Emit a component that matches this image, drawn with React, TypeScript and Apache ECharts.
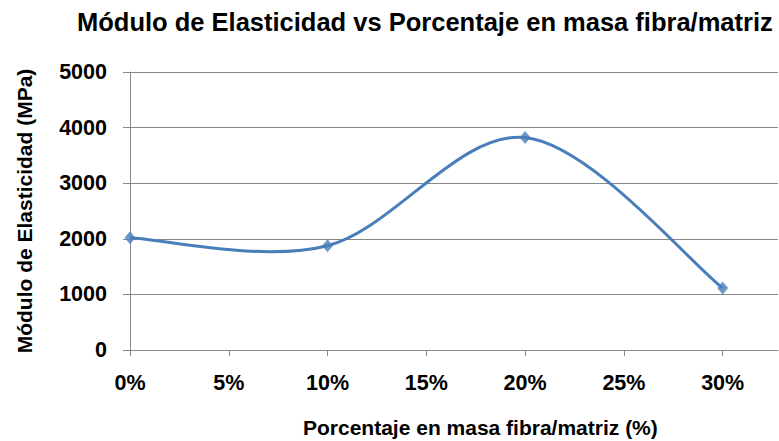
import React, { useEffect, useRef } from "react";
import * as echarts from "echarts";

const titleText = "Módulo de Elasticidad vs Porcentaje en masa fibra/matriz";
const xName = "Porcentaje en masa fibra/matriz (%)";
const yName = "Módulo de Elasticidad (MPa)";
const xValues = [0, 0.1, 0.2, 0.3];
const yValues = [2020, 1875, 3820, 1115];
const xTicks = [0, 0.05, 0.1, 0.15, 0.2, 0.25, 0.3];

const LINE_COLOR = "#4A7EBB";
const FONT = "Liberation Sans, Arial, sans-serif";

export default function App() {
  const ref = useRef<HTMLDivElement>(null);
  useEffect(() => {
    if (!ref.current) return;
    const chart = echarts.init(ref.current, undefined, { renderer: "svg" });
    const pts = xValues.map((x, i) => [x, yValues[i]]);
    chart.setOption({
      animation: false,
      backgroundColor: "#ffffff",
      title: {
        text: titleText,
        left: 72,
        top: 4,
        textStyle: { fontFamily: FONT, fontWeight: "bold", fontSize: 25.5, color: "#000" },
      },
      grid: { left: 130, right: 1, top: 72, bottom: 91 },
      xAxis: {
        type: "value",
        min: 0,
        max: 0.328,
        splitLine: { show: false },
        axisLine: { lineStyle: { color: "#888", width: 1 } },
        axisTick: { show: true, length: 6, lineStyle: { color: "#888" }, customValues: xTicks },
        axisLabel: {
          customValues: xTicks,
          margin: 22,
          fontFamily: FONT,
          fontWeight: "bold",
          fontSize: 21.5,
          color: "#000",
          formatter: (v: number) => Math.round(v * 100) + "%",
        },
      },
      yAxis: {
        type: "value",
        min: 0,
        max: 5000,
        interval: 1000,
        axisLine: { show: true, lineStyle: { color: "#888", width: 1 } },
        axisTick: { show: true, length: 7, lineStyle: { color: "#888" } },
        splitLine: { show: true, lineStyle: { color: "#888", width: 1 } },
        axisLabel: {
          margin: 23,
          fontFamily: FONT,
          fontWeight: "bold",
          fontSize: 21.5,
          color: "#000",
          formatter: (v: number) => String(v),
        },
      },
      graphic: [
        {
          type: "text",
          x: 303,
          y: 427,
          style: {
            text: xName,
            fontFamily: FONT,
            fontWeight: "bold",
            fontSize: 21,
            fill: "#000",
            verticalAlign: "middle",
          },
        },
        {
          type: "text",
          x: 24,
          y: 211,
          rotation: Math.PI / 2,
          style: {
            text: yName,
            fontFamily: FONT,
            fontWeight: "bold",
            fontSize: 21,
            fill: "#000",
            align: "center",
            verticalAlign: "middle",
          },
        },
      ],
      series: [
        {
          type: "custom",
          data: [0],
          silent: true,
          z: 2,
          renderItem: (params: any, api: any) => {
            const p = pts.map((d) => api.coord(d));
            const n = p.length;
            let d = `M${p[0][0]},${p[0][1]}`;
            for (let i = 0; i < n - 1; i++) {
              const p0 = p[Math.max(i - 1, 0)];
              const p1 = p[i];
              const p2 = p[i + 1];
              const p3 = p[Math.min(i + 2, n - 1)];
              const c1x = p1[0] + (p2[0] - p0[0]) / 6;
              const c1y = p1[1] + (p2[1] - p0[1]) / 6;
              const c2x = p2[0] - (p3[0] - p1[0]) / 6;
              const c2y = p2[1] - (p3[1] - p1[1]) / 6;
              d += ` C${c1x},${c1y} ${c2x},${c2y} ${p2[0]},${p2[1]}`;
            }
            return {
              type: "path",
              shape: { pathData: d },
              style: { fill: "none", stroke: LINE_COLOR, lineWidth: 3 },
            };
          },
        },
        {
          type: "scatter",
          data: pts,
          symbol: "diamond",
          symbolSize: [11, 13],
          itemStyle: { color: LINE_COLOR },
          z: 3,
        },
      ],
    });
    return () => chart.dispose();
  }, []);
  return <div ref={ref} style={{ width: 779, height: 441, position: "absolute", left: 0, top: 0 }} />;
}
